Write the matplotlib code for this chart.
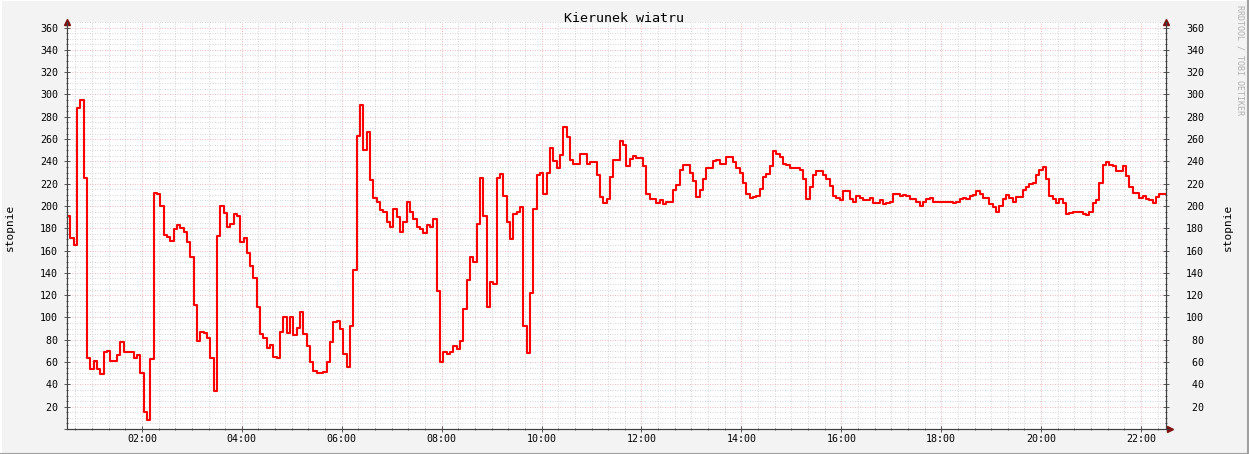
import matplotlib
matplotlib.use("Agg")
import matplotlib.pyplot as plt
import numpy as np
from matplotlib.ticker import MultipleLocator, FuncFormatter

# change points: minutes since midnight -> wind direction (degrees)
t_min = [30, 34, 38, 42, 46, 50, 54, 58, 62, 66, 70, 74, 78, 82, 90, 94, 98, 110, 114, 118,
         122, 126, 130, 134, 138, 142, 146, 150, 154, 158, 162, 166, 170, 174, 178, 182, 186, 190, 194, 198,
         202, 206, 210, 214, 218, 222, 226, 230, 234, 238, 242, 246, 250, 254, 258, 262, 266, 270, 274, 278,
         282, 286, 290, 294, 298, 302, 306, 310, 314, 318, 322, 326, 330, 338, 342, 346, 350, 354, 358, 362,
         366, 370, 374, 378, 382, 386, 390, 394, 398, 402, 406, 410, 414, 418, 422, 426, 430, 434, 438, 442,
         446, 450, 454, 458, 462, 466, 470, 474, 478, 482, 486, 490, 494, 498, 502, 506, 510, 514, 518, 522,
         526, 530, 534, 538, 542, 546, 550, 554, 558, 562, 566, 570, 574, 578, 582, 586, 590, 594, 598, 602,
         606, 610, 614, 618, 622, 626, 630, 634, 638, 646, 654, 658, 666, 670, 674, 678, 682, 686, 694, 698,
         702, 706, 710, 714, 722, 726, 730, 734, 738, 742, 746, 750, 758, 762, 766, 770, 774, 778, 782, 786,
         790, 794, 798, 806, 810, 814, 822, 826, 830, 834, 838, 842, 846, 850, 854, 858, 862, 866, 870, 874,
         878, 882, 886, 890, 894, 898, 902, 906, 910, 914, 918, 922, 926, 930, 938, 942, 946, 950, 954, 958,
         962, 970, 974, 978, 982, 986, 994, 998, 1006, 1010, 1014, 1018, 1022, 1030, 1034, 1038, 1042, 1050, 1054, 1058,
         1062, 1066, 1070, 1094, 1098, 1102, 1106, 1110, 1114, 1118, 1122, 1126, 1130, 1138, 1142, 1146, 1150, 1154, 1158, 1162,
         1166, 1170, 1178, 1182, 1186, 1190, 1194, 1198, 1202, 1206, 1210, 1214, 1218, 1222, 1226, 1230, 1234, 1238, 1250, 1254,
         1258, 1262, 1266, 1270, 1274, 1278, 1282, 1286, 1290, 1298, 1302, 1306, 1310, 1318, 1322, 1326, 1330, 1334, 1338, 1342]
deg = [191, 171, 165, 288, 295, 225, 64, 54, 61, 54, 49, 69, 70, 61, 66, 78, 69, 64, 66, 50,
       15, 8, 63, 212, 211, 200, 174, 172, 169, 179, 183, 180, 177, 168, 154, 111, 79, 87, 86, 82,
       64, 34, 173, 200, 194, 181, 184, 193, 191, 168, 171, 158, 146, 135, 109, 85, 82, 73, 75, 65,
       64, 87, 100, 86, 100, 84, 91, 105, 85, 74, 60, 52, 50, 51, 60, 78, 96, 97, 90, 67,
       56, 92, 143, 263, 291, 250, 266, 223, 207, 204, 196, 195, 186, 181, 197, 190, 177, 186, 204, 195,
       188, 181, 179, 176, 183, 181, 188, 124, 60, 69, 67, 69, 74, 72, 79, 108, 134, 154, 150, 184,
       225, 191, 109, 132, 130, 225, 229, 209, 186, 170, 193, 195, 199, 92, 68, 122, 197, 228, 230, 211,
       230, 252, 240, 234, 246, 271, 262, 241, 238, 247, 238, 239, 228, 208, 203, 206, 226, 241, 258, 255,
       236, 242, 245, 243, 236, 211, 206, 206, 203, 205, 202, 204, 214, 219, 232, 237, 237, 230, 222, 208,
       214, 224, 234, 240, 241, 238, 244, 244, 239, 234, 230, 221, 211, 207, 208, 209, 215, 226, 229, 236,
       249, 247, 244, 238, 237, 234, 234, 234, 232, 224, 206, 217, 228, 231, 228, 224, 218, 209, 207, 205,
       213, 206, 204, 209, 207, 205, 207, 203, 205, 202, 203, 204, 211, 209, 210, 209, 206, 204, 200, 204,
       206, 207, 204, 203, 204, 206, 207, 206, 209, 210, 213, 211, 207, 202, 199, 195, 200, 206, 210, 207,
       204, 208, 214, 217, 220, 221, 228, 232, 235, 224, 209, 206, 203, 206, 203, 193, 194, 195, 193, 192,
       195, 203, 205, 221, 237, 239, 237, 236, 231, 236, 227, 217, 212, 207, 209, 206, 205, 203, 208, 211]
t_end = 1350

W, H = 1249, 454
fig = plt.figure(figsize=(W / 100, H / 100), dpi=100, facecolor="#f3f3f3")
ax = fig.add_axes([67 / W, 25 / H, (1166 - 67) / W, 407 / H])
ax.set_facecolor("white")

mono = "DejaVu Sans Mono"

x = np.array(t_min + [t_end])
y = np.array(deg + [deg[-1]])
ax.plot(x, y, drawstyle="steps-post", color="#ff0000", lw=1.5, zorder=5)

ax.set_xlim(30, t_end)
ax.set_ylim(0, 365)

ax.xaxis.set_major_locator(MultipleLocator(120))
ax.xaxis.set_minor_locator(MultipleLocator(20))
ax.xaxis.set_major_formatter(FuncFormatter(lambda v, p: "%02d:%02d" % (v // 60, v % 60)))
yfmt = FuncFormatter(lambda v, p: "" if v == 0 else "%3d" % v)

ax.grid(which="minor", color="#c8c8c8", lw=0.6, ls=(0, (1, 2)))
ax.grid(which="major", color="#f0a0a0", lw=0.6, ls=(0, (1, 2)))
ax.set_axisbelow(True)

# right-hand axis for the mirrored labels
ax2 = ax.twinx()
ax2.set_ylim(ax.get_ylim())
for a in (ax, ax2):
    a.yaxis.set_major_locator(MultipleLocator(20))
    a.yaxis.set_minor_locator(MultipleLocator(5))
    a.yaxis.set_major_formatter(yfmt)
    a.tick_params(which="both", direction="inout", color="#404040", labelsize=7.2, width=0.6)
    a.tick_params(which="major", length=4)
    a.tick_params(which="minor", length=2)
    for s in ["left", "bottom", "right"]:
        a.spines[s].set_color("#404040")
        a.spines[s].set_linewidth(0.8)
    a.spines["top"].set_visible(False)
ax.tick_params(axis="y", pad=4.5)
ax2.tick_params(axis="y", pad=12.5)
ax.tick_params(axis="x", pad=1.5)
for lab in ax.get_xticklabels() + ax.get_yticklabels() + ax2.get_yticklabels():
    lab.set_family(mono)

# arrow heads
ax.plot([0], [1.0], marker="^", color="#7f1010", ms=4, transform=ax.transAxes, clip_on=False)
ax.plot([1], [1.0], marker="^", color="#7f1010", ms=4, transform=ax.transAxes, clip_on=False)
ax.plot([1.004], [0], marker=">", color="#7f1010", ms=4, transform=ax.transAxes, clip_on=False)

fig.text(624 / W, 1 - 19 / H, "Kierunek wiatru", family=mono, fontsize=9.6, ha="center", va="center")
fig.text(10 / W, 1 - 227 / H, "stopnie", family=mono, fontsize=8, rotation=90, ha="center", va="center")
fig.text(1228 / W, 1 - 227 / H, "stopnie", family=mono, fontsize=8, rotation=90, ha="center", va="center")
fig.text(1240 / W, 1 - 5 / H, "RRDTOOL / TOBI OETIKER", family=mono, fontsize=6, color="#b0b0b0",
         rotation=270, ha="center", va="top")

# 3d-ish border
fig.add_artist(plt.Line2D([0, 1], [0.999, 0.999], color="white", lw=1.5, transform=fig.transFigure))
fig.add_artist(plt.Line2D([0.0005, 0.0005], [0, 1], color="white", lw=1.5, transform=fig.transFigure))
fig.add_artist(plt.Line2D([0, 1], [0.001, 0.001], color="#a0a0a0", lw=1.5, transform=fig.transFigure))
fig.add_artist(plt.Line2D([0.9995, 0.9995], [0, 1], color="#a0a0a0", lw=1.5, transform=fig.transFigure))

fig.savefig("out.png", dpi=100, facecolor=fig.get_facecolor())
